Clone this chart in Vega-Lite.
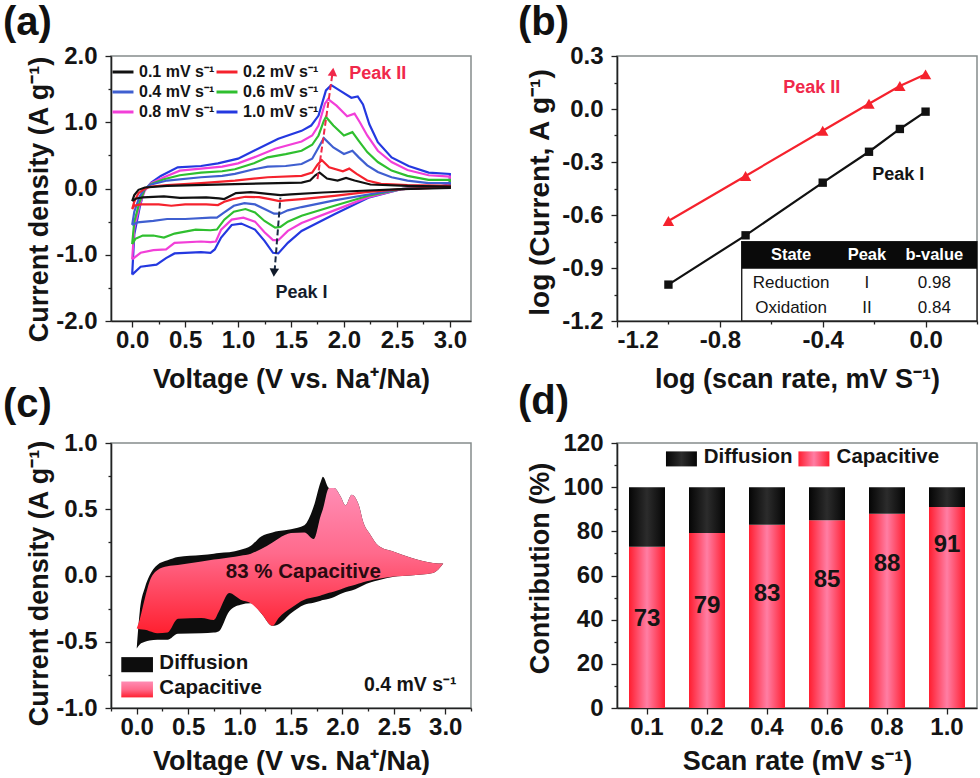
{"$schema":"https://vega.github.io/schema/vega-lite/v6.json","padding":{"left":2,"top":2,"right":0,"bottom":0},"background":"white","columns":2,"bounds":"flush","spacing":{"row":122,"column":146},"config":{"font":"Liberation Sans","view":{"stroke":"#858c8c","strokeWidth":1.5},"title":{"font":"Liberation Sans","fontWeight":"bold","fontSize":40,"color":"#111"},"axis":{"grid":false,"domainColor":"#222","domainWidth":1.6,"tickColor":"#222","tickWidth":1.3,"labelFont":"Liberation Sans","labelFontWeight":"bold","labelFontSize":24,"labelColor":"#141414","labelOverlap":false,"labelPadding":8,"titleFont":"Liberation Sans","titleFontWeight":"bold","titleFontSize":27,"titleColor":"#141414"},"legend":{"labelFont":"Liberation Sans"}},"concat":[{"width":360,"height":265,"title":{"text":"(a)","anchor":"start","frame":"group","dx":-108,"offset":1},"encoding":{"x":{"field":"x","type":"quantitative","scale":{"domain":[-0.2,3.2],"nice":false,"zero":false},"axis":{"title":"Voltage (V vs. Na⁺/Na)","labelPadding":1,"titlePadding":14,"values":[0,0.25,0.5,0.75,1,1.25,1.5,1.75,2,2.25,2.5,2.75,3],"tickSize":{"condition":{"test":"round(datum.value*100)%50!=0","value":3},"value":6},"labelExpr":"round(datum.value*100)%50!=0?'':format(datum.value,'.1f')"}},"y":{"field":"y","type":"quantitative","scale":{"domain":[-2,2],"nice":false,"zero":false},"axis":{"title":"Current density (A g⁻¹)","titlePadding":2,"titleY":143,"values":[-2,-1.5,-1,-0.5,0,0.5,1,1.5,2],"tickSize":{"condition":{"test":"round(datum.value*100)%100!=0","value":3},"value":6},"labelExpr":"round(datum.value*100)%100!=0?'':(datum.value<0?'-':'')+format(abs(datum.value),'.1f')"}}},"layer":[{"data":{"values":[{"s":"1.0","o":1,"x":0,"y":-1.3},{"s":"1.0","o":2,"x":0.02,"y":-0.69},{"s":"1.0","o":3,"x":0.07,"y":-0.29},{"s":"1.0","o":4,"x":0.11,"y":-0.04},{"s":"1.0","o":5,"x":0.18,"y":0.09},{"s":"1.0","o":6,"x":0.27,"y":0.19},{"s":"1.0","o":7,"x":0.43,"y":0.32},{"s":"1.0","o":8,"x":0.65,"y":0.34},{"s":"1.0","o":9,"x":0.81,"y":0.38},{"s":"1.0","o":10,"x":1,"y":0.45},{"s":"1.0","o":11,"x":1.15,"y":0.57},{"s":"1.0","o":12,"x":1.38,"y":0.75},{"s":"1.0","o":13,"x":1.6,"y":0.87},{"s":"1.0","o":14,"x":1.69,"y":0.95},{"s":"1.0","o":15,"x":1.76,"y":1.1},{"s":"1.0","o":16,"x":1.83,"y":1.48},{"s":"1.0","o":17,"x":1.88,"y":1.56},{"s":"1.0","o":18,"x":1.97,"y":1.47},{"s":"1.0","o":19,"x":2.07,"y":1.37},{"s":"1.0","o":20,"x":2.13,"y":1.39},{"s":"1.0","o":21,"x":2.18,"y":1.27},{"s":"1.0","o":22,"x":2.24,"y":0.97},{"s":"1.0","o":23,"x":2.32,"y":0.7},{"s":"1.0","o":24,"x":2.45,"y":0.47},{"s":"1.0","o":25,"x":2.61,"y":0.34},{"s":"1.0","o":26,"x":2.8,"y":0.24},{"s":"1.0","o":27,"x":3,"y":0.22},{"s":"1.0","o":28,"x":3,"y":0.06},{"s":"1.0","o":29,"x":2.86,"y":0.02},{"s":"1.0","o":30,"x":2.54,"y":-0.01},{"s":"1.0","o":31,"x":2.23,"y":-0.14},{"s":"1.0","o":32,"x":1.91,"y":-0.39},{"s":"1.0","o":33,"x":1.6,"y":-0.64},{"s":"1.0","o":34,"x":1.47,"y":-0.82},{"s":"1.0","o":35,"x":1.38,"y":-0.98},{"s":"1.0","o":36,"x":1.33,"y":-0.97},{"s":"1.0","o":37,"x":1.25,"y":-0.79},{"s":"1.0","o":38,"x":1.16,"y":-0.62},{"s":"1.0","o":39,"x":1.03,"y":-0.53},{"s":"1.0","o":40,"x":0.94,"y":-0.55},{"s":"1.0","o":41,"x":0.84,"y":-0.74},{"s":"1.0","o":42,"x":0.78,"y":-0.92},{"s":"1.0","o":43,"x":0.74,"y":-0.97},{"s":"1.0","o":44,"x":0.65,"y":-0.96},{"s":"1.0","o":45,"x":0.4,"y":-0.98},{"s":"1.0","o":46,"x":0.32,"y":-1.05},{"s":"1.0","o":47,"x":0.23,"y":-1.15},{"s":"1.0","o":48,"x":0.08,"y":-1.18},{"s":"1.0","o":49,"x":0,"y":-1.3},{"s":"0.8","o":1,"x":0,"y":-1.07},{"s":"0.8","o":2,"x":0.02,"y":-0.6},{"s":"0.8","o":3,"x":0.07,"y":-0.25},{"s":"0.8","o":4,"x":0.12,"y":-0.03},{"s":"0.8","o":5,"x":0.18,"y":0.08},{"s":"0.8","o":6,"x":0.3,"y":0.17},{"s":"0.8","o":7,"x":0.45,"y":0.27},{"s":"0.8","o":8,"x":0.65,"y":0.3},{"s":"0.8","o":9,"x":0.85,"y":0.33},{"s":"0.8","o":10,"x":1,"y":0.38},{"s":"0.8","o":11,"x":1.15,"y":0.47},{"s":"0.8","o":12,"x":1.35,"y":0.6},{"s":"0.8","o":13,"x":1.6,"y":0.71},{"s":"0.8","o":14,"x":1.7,"y":0.8},{"s":"0.8","o":15,"x":1.76,"y":0.95},{"s":"0.8","o":16,"x":1.82,"y":1.28},{"s":"0.8","o":17,"x":1.85,"y":1.35},{"s":"0.8","o":18,"x":1.93,"y":1.25},{"s":"0.8","o":19,"x":2.03,"y":1.09},{"s":"0.8","o":20,"x":2.1,"y":1.13},{"s":"0.8","o":21,"x":2.15,"y":1},{"s":"0.8","o":22,"x":2.22,"y":0.8},{"s":"0.8","o":23,"x":2.32,"y":0.57},{"s":"0.8","o":24,"x":2.45,"y":0.4},{"s":"0.8","o":25,"x":2.6,"y":0.28},{"s":"0.8","o":26,"x":2.8,"y":0.2},{"s":"0.8","o":27,"x":3,"y":0.18},{"s":"0.8","o":28,"x":3,"y":0.05},{"s":"0.8","o":29,"x":2.86,"y":0.02},{"s":"0.8","o":30,"x":2.54,"y":-0.01},{"s":"0.8","o":31,"x":2.23,"y":-0.13},{"s":"0.8","o":32,"x":1.91,"y":-0.33},{"s":"0.8","o":33,"x":1.6,"y":-0.52},{"s":"0.8","o":34,"x":1.47,"y":-0.64},{"s":"0.8","o":35,"x":1.38,"y":-0.78},{"s":"0.8","o":36,"x":1.33,"y":-0.78},{"s":"0.8","o":37,"x":1.25,"y":-0.66},{"s":"0.8","o":38,"x":1.16,"y":-0.5},{"s":"0.8","o":39,"x":1.05,"y":-0.44},{"s":"0.8","o":40,"x":0.94,"y":-0.47},{"s":"0.8","o":41,"x":0.84,"y":-0.62},{"s":"0.8","o":42,"x":0.79,"y":-0.8},{"s":"0.8","o":43,"x":0.74,"y":-0.81},{"s":"0.8","o":44,"x":0.65,"y":-0.8},{"s":"0.8","o":45,"x":0.4,"y":-0.82},{"s":"0.8","o":46,"x":0.32,"y":-0.92},{"s":"0.8","o":47,"x":0.2,"y":-0.93},{"s":"0.8","o":48,"x":0.08,"y":-0.97},{"s":"0.8","o":49,"x":0,"y":-1.07},{"s":"0.6","o":1,"x":0,"y":-0.84},{"s":"0.6","o":2,"x":0.02,"y":-0.5},{"s":"0.6","o":3,"x":0.07,"y":-0.2},{"s":"0.6","o":4,"x":0.12,"y":-0.01},{"s":"0.6","o":5,"x":0.18,"y":0.07},{"s":"0.6","o":6,"x":0.3,"y":0.14},{"s":"0.6","o":7,"x":0.45,"y":0.2},{"s":"0.6","o":8,"x":0.65,"y":0.24},{"s":"0.6","o":9,"x":0.85,"y":0.26},{"s":"0.6","o":10,"x":0.97,"y":0.29},{"s":"0.6","o":11,"x":1.15,"y":0.38},{"s":"0.6","o":12,"x":1.28,"y":0.47},{"s":"0.6","o":13,"x":1.45,"y":0.52},{"s":"0.6","o":14,"x":1.6,"y":0.57},{"s":"0.6","o":15,"x":1.7,"y":0.66},{"s":"0.6","o":16,"x":1.76,"y":0.8},{"s":"0.6","o":17,"x":1.81,"y":1.02},{"s":"0.6","o":18,"x":1.83,"y":1.08},{"s":"0.6","o":19,"x":1.9,"y":0.95},{"s":"0.6","o":20,"x":2,"y":0.8},{"s":"0.6","o":21,"x":2.08,"y":0.85},{"s":"0.6","o":22,"x":2.14,"y":0.72},{"s":"0.6","o":23,"x":2.22,"y":0.55},{"s":"0.6","o":24,"x":2.32,"y":0.4},{"s":"0.6","o":25,"x":2.45,"y":0.27},{"s":"0.6","o":26,"x":2.6,"y":0.19},{"s":"0.6","o":27,"x":2.8,"y":0.13},{"s":"0.6","o":28,"x":3,"y":0.13},{"s":"0.6","o":29,"x":3,"y":0.04},{"s":"0.6","o":30,"x":2.86,"y":0.02},{"s":"0.6","o":31,"x":2.54,"y":-0.01},{"s":"0.6","o":32,"x":2.23,"y":-0.11},{"s":"0.6","o":33,"x":1.91,"y":-0.26},{"s":"0.6","o":34,"x":1.6,"y":-0.41},{"s":"0.6","o":35,"x":1.47,"y":-0.5},{"s":"0.6","o":36,"x":1.4,"y":-0.58},{"s":"0.6","o":37,"x":1.35,"y":-0.59},{"s":"0.6","o":38,"x":1.25,"y":-0.49},{"s":"0.6","o":39,"x":1.16,"y":-0.36},{"s":"0.6","o":40,"x":1.07,"y":-0.31},{"s":"0.6","o":41,"x":0.96,"y":-0.35},{"s":"0.6","o":42,"x":0.87,"y":-0.47},{"s":"0.6","o":43,"x":0.8,"y":-0.62},{"s":"0.6","o":44,"x":0.74,"y":-0.63},{"s":"0.6","o":45,"x":0.6,"y":-0.62},{"s":"0.6","o":46,"x":0.4,"y":-0.68},{"s":"0.6","o":47,"x":0.3,"y":-0.74},{"s":"0.6","o":48,"x":0.2,"y":-0.71},{"s":"0.6","o":49,"x":0.1,"y":-0.71},{"s":"0.6","o":50,"x":0.03,"y":-0.76},{"s":"0.6","o":51,"x":0,"y":-0.84},{"s":"0.4","o":1,"x":0,"y":-0.55},{"s":"0.4","o":2,"x":0.02,"y":-0.35},{"s":"0.4","o":3,"x":0.07,"y":-0.12},{"s":"0.4","o":4,"x":0.12,"y":0},{"s":"0.4","o":5,"x":0.18,"y":0.06},{"s":"0.4","o":6,"x":0.33,"y":0.12},{"s":"0.4","o":7,"x":0.65,"y":0.17},{"s":"0.4","o":8,"x":0.85,"y":0.19},{"s":"0.4","o":9,"x":0.97,"y":0.22},{"s":"0.4","o":10,"x":1.15,"y":0.29},{"s":"0.4","o":11,"x":1.28,"y":0.33},{"s":"0.4","o":12,"x":1.45,"y":0.34},{"s":"0.4","o":13,"x":1.6,"y":0.37},{"s":"0.4","o":14,"x":1.7,"y":0.45},{"s":"0.4","o":15,"x":1.76,"y":0.62},{"s":"0.4","o":16,"x":1.81,"y":0.76},{"s":"0.4","o":17,"x":1.9,"y":0.62},{"s":"0.4","o":18,"x":2,"y":0.52},{"s":"0.4","o":19,"x":2.08,"y":0.57},{"s":"0.4","o":20,"x":2.14,"y":0.47},{"s":"0.4","o":21,"x":2.22,"y":0.35},{"s":"0.4","o":22,"x":2.32,"y":0.25},{"s":"0.4","o":23,"x":2.45,"y":0.17},{"s":"0.4","o":24,"x":2.6,"y":0.12},{"s":"0.4","o":25,"x":2.8,"y":0.08},{"s":"0.4","o":26,"x":3,"y":0.08},{"s":"0.4","o":27,"x":3,"y":0.03},{"s":"0.4","o":28,"x":2.86,"y":0.015},{"s":"0.4","o":29,"x":2.54,"y":-0.01},{"s":"0.4","o":30,"x":2.23,"y":-0.09},{"s":"0.4","o":31,"x":1.91,"y":-0.18},{"s":"0.4","o":32,"x":1.6,"y":-0.28},{"s":"0.4","o":33,"x":1.47,"y":-0.33},{"s":"0.4","o":34,"x":1.4,"y":-0.38},{"s":"0.4","o":35,"x":1.34,"y":-0.38},{"s":"0.4","o":36,"x":1.25,"y":-0.31},{"s":"0.4","o":37,"x":1.16,"y":-0.24},{"s":"0.4","o":38,"x":1.06,"y":-0.22},{"s":"0.4","o":39,"x":0.96,"y":-0.26},{"s":"0.4","o":40,"x":0.87,"y":-0.36},{"s":"0.4","o":41,"x":0.8,"y":-0.44},{"s":"0.4","o":42,"x":0.74,"y":-0.44},{"s":"0.4","o":43,"x":0.5,"y":-0.46},{"s":"0.4","o":44,"x":0.33,"y":-0.46},{"s":"0.4","o":45,"x":0.2,"y":-0.49},{"s":"0.4","o":46,"x":0.05,"y":-0.51},{"s":"0.4","o":47,"x":0,"y":-0.55},{"s":"0.2","o":1,"x":0,"y":-0.31},{"s":"0.2","o":2,"x":0.02,"y":-0.2},{"s":"0.2","o":3,"x":0.06,"y":-0.07},{"s":"0.2","o":4,"x":0.12,"y":0},{"s":"0.2","o":5,"x":0.18,"y":0.03},{"s":"0.2","o":6,"x":0.33,"y":0.05},{"s":"0.2","o":7,"x":0.65,"y":0.08},{"s":"0.2","o":8,"x":0.97,"y":0.12},{"s":"0.2","o":9,"x":1.28,"y":0.17},{"s":"0.2","o":10,"x":1.6,"y":0.19},{"s":"0.2","o":11,"x":1.7,"y":0.24},{"s":"0.2","o":12,"x":1.75,"y":0.36},{"s":"0.2","o":13,"x":1.79,"y":0.43},{"s":"0.2","o":14,"x":1.86,"y":0.32},{"s":"0.2","o":15,"x":1.99,"y":0.26},{"s":"0.2","o":16,"x":2.05,"y":0.3},{"s":"0.2","o":17,"x":2.12,"y":0.22},{"s":"0.2","o":18,"x":2.22,"y":0.12},{"s":"0.2","o":19,"x":2.35,"y":0.07},{"s":"0.2","o":20,"x":2.6,"y":0.05},{"s":"0.2","o":21,"x":3,"y":0.04},{"s":"0.2","o":22,"x":3,"y":0.02},{"s":"0.2","o":23,"x":2.54,"y":-0.01},{"s":"0.2","o":24,"x":2.23,"y":-0.05},{"s":"0.2","o":25,"x":1.91,"y":-0.11},{"s":"0.2","o":26,"x":1.6,"y":-0.16},{"s":"0.2","o":27,"x":1.45,"y":-0.18},{"s":"0.2","o":28,"x":1.39,"y":-0.19},{"s":"0.2","o":29,"x":1.3,"y":-0.16},{"s":"0.2","o":30,"x":1.2,"y":-0.13},{"s":"0.2","o":31,"x":1.07,"y":-0.125},{"s":"0.2","o":32,"x":0.95,"y":-0.16},{"s":"0.2","o":33,"x":0.87,"y":-0.2},{"s":"0.2","o":34,"x":0.81,"y":-0.25},{"s":"0.2","o":35,"x":0.7,"y":-0.24},{"s":"0.2","o":36,"x":0.5,"y":-0.24},{"s":"0.2","o":37,"x":0.37,"y":-0.26},{"s":"0.2","o":38,"x":0.25,"y":-0.24},{"s":"0.2","o":39,"x":0.08,"y":-0.24},{"s":"0.2","o":40,"x":0.02,"y":-0.26},{"s":"0.2","o":41,"x":0,"y":-0.31},{"s":"0.1","o":1,"x":0,"y":-0.19},{"s":"0.1","o":2,"x":0.02,"y":-0.1},{"s":"0.1","o":3,"x":0.06,"y":-0.02},{"s":"0.1","o":4,"x":0.12,"y":0.015},{"s":"0.1","o":5,"x":0.33,"y":0.04},{"s":"0.1","o":6,"x":0.97,"y":0.065},{"s":"0.1","o":7,"x":1.6,"y":0.09},{"s":"0.1","o":8,"x":1.68,"y":0.12},{"s":"0.1","o":9,"x":1.73,"y":0.2},{"s":"0.1","o":10,"x":1.77,"y":0.24},{"s":"0.1","o":11,"x":1.84,"y":0.15},{"s":"0.1","o":12,"x":1.94,"y":0.12},{"s":"0.1","o":13,"x":2.02,"y":0.16},{"s":"0.1","o":14,"x":2.1,"y":0.12},{"s":"0.1","o":15,"x":2.25,"y":0.06},{"s":"0.1","o":16,"x":2.6,"y":0.04},{"s":"0.1","o":17,"x":3,"y":0.03},{"s":"0.1","o":18,"x":3,"y":0.01},{"s":"0.1","o":19,"x":2.54,"y":-0.01},{"s":"0.1","o":20,"x":2.23,"y":-0.03},{"s":"0.1","o":21,"x":1.8,"y":-0.06},{"s":"0.1","o":22,"x":1.5,"y":-0.09},{"s":"0.1","o":23,"x":1.4,"y":-0.1},{"s":"0.1","o":24,"x":1.28,"y":-0.08},{"s":"0.1","o":25,"x":1.12,"y":-0.055},{"s":"0.1","o":26,"x":0.98,"y":-0.07},{"s":"0.1","o":27,"x":0.87,"y":-0.16},{"s":"0.1","o":28,"x":0.82,"y":-0.15},{"s":"0.1","o":29,"x":0.7,"y":-0.135},{"s":"0.1","o":30,"x":0.45,"y":-0.14},{"s":"0.1","o":31,"x":0.3,"y":-0.12},{"s":"0.1","o":32,"x":0.15,"y":-0.13},{"s":"0.1","o":33,"x":0.1,"y":-0.135},{"s":"0.1","o":34,"x":0.04,"y":-0.15},{"s":"0.1","o":35,"x":0,"y":-0.19}]},"mark":{"type":"line","strokeWidth":2.2,"interpolate":"linear","clip":true},"encoding":{"order":{"field":"o","type":"quantitative"},"color":{"field":"s","type":"nominal","scale":{"domain":["0.1","0.4","0.8","0.2","0.6","1.0"],"range":["#111111","#3f5fd0","#f23fd8","#f5222d","#2fbf2f","#2438e0"]},"legend":{"title":null,"orient":"none","legendX":0,"legendY":4,"columns":2,"columnPadding":-6,"rowPadding":0,"symbolType":"stroke","symbolSize":440,"symbolStrokeWidth":3,"labelFontSize":16,"labelFontWeight":"bold","labelColor":"#141414","labelExpr":"datum.label+' mV s⁻¹'"}}}},{"data":{"values":[{"k":"II","x":1.75,"y":0.14},{"k":"II","x":1.89,"y":1.72}]},"mark":{"type":"line","color":"#f0284a","strokeWidth":2,"strokeDash":[6,3]},"encoding":{"detail":{"field":"k"}}},{"data":{"values":[{"k":"I","x":1.4,"y":-0.14},{"k":"I","x":1.345,"y":-1.25}]},"mark":{"type":"line","color":"#1a2a44","strokeWidth":2,"strokeDash":[6,3]},"encoding":{"detail":{"field":"k"}}},{"data":{"values":[{"x":1.895,"y":1.76}]},"mark":{"type":"point","shape":"triangle-up","filled":true,"size":90,"color":"#f0284a","opacity":1,"angle":6}},{"data":{"values":[{"x":1.34,"y":-1.27}]},"mark":{"type":"point","shape":"triangle-down","filled":true,"size":90,"color":"#111a2a","opacity":1,"angle":4}},{"data":{"values":[{"x":2.32,"y":1.73,"t":"Peak II"}]},"mark":{"type":"text","fontSize":18,"fontWeight":"bold","color":"#f0284a"},"encoding":{"text":{"field":"t"}}},{"data":{"values":[{"x":1.6,"y":-1.58,"t":"Peak I"}]},"mark":{"type":"text","fontSize":18,"fontWeight":"bold","color":"#141c2c"},"encoding":{"text":{"field":"t"}}}]},{"width":360,"height":265,"title":{"text":"(b)","anchor":"start","frame":"group","dx":-99,"offset":1},"encoding":{"x":{"field":"x","type":"quantitative","scale":{"domain":[-1.2,0.2],"nice":false,"zero":false},"axis":{"title":"log (scan rate, mV S⁻¹)","labelPadding":1,"titlePadding":14,"values":[-1.2,-1,-0.8,-0.6,-0.4,-0.2,0,0.2],"tickSize":{"condition":{"test":"round(abs(datum.value)*100)%40!=0","value":3},"value":6},"labelExpr":"round(abs(datum.value)*100)%40!=0?'':(datum.value<0?'-':'')+format(abs(datum.value),'.1f')"}},"y":{"field":"y","type":"quantitative","scale":{"domain":[-1.2,0.3],"nice":false,"zero":false},"axis":{"title":"log (Current, A g⁻¹)","titleFontSize":28,"titlePadding":7,"titleY":136,"values":[-1.2,-1.05,-0.9,-0.75,-0.6,-0.45,-0.3,-0.15,0,0.15,0.3],"tickSize":{"condition":{"test":"round(abs(datum.value)*100)%30!=0","value":3},"value":6},"labelExpr":"round(abs(datum.value)*100)%30!=0?'':(datum.value<0?'-':'')+format(abs(datum.value),'.1f')"}}},"layer":[{"data":{"values":[{"x":-1,"y":-0.994},{"x":-0.7,"y":-0.715},{"x":-0.4,"y":-0.417},{"x":-0.22,"y":-0.242},{"x":-0.1,"y":-0.113},{"x":0,"y":-0.015}]},"mark":{"type":"line","color":"#111","strokeWidth":2.2,"point":{"shape":"square","size":70,"filled":true,"color":"#111","opacity":1}}},{"data":{"values":[{"x":-1,"y":-0.634},{"x":-0.7,"y":-0.379},{"x":-0.4,"y":-0.123},{"x":-0.22,"y":0.03},{"x":-0.1,"y":0.13},{"x":0,"y":0.196}]},"mark":{"type":"line","color":"#f5222d","strokeWidth":2.2,"point":{"shape":"triangle-up","size":130,"filled":true,"color":"#f5222d","opacity":1}}},{"data":{"values":[{"x":-0.443,"y":0.117,"t":"Peak II"}]},"mark":{"type":"text","fontSize":18,"fontWeight":"bold","color":"#f0284a"},"encoding":{"text":{"field":"t"}}},{"data":{"values":[{"x":-0.106,"y":-0.375,"t":"Peak I"}]},"mark":{"type":"text","fontSize":18,"fontWeight":"bold","color":"#141414"},"encoding":{"text":{"field":"t"}}},{"data":{"values":[{"x":-0.715,"x2":0.2,"y":-1.2,"y2":-0.751}]},"mark":{"type":"rect","fill":"white","stroke":"#222","strokeWidth":1.4},"encoding":{"x2":{"field":"x2"},"y2":{"field":"y2"}}},{"data":{"values":[{"x":-0.715,"x2":0.2,"y":-0.904,"y2":-0.751}]},"mark":{"type":"rect","fill":"#0a0a0a"},"encoding":{"x2":{"field":"x2"},"y2":{"field":"y2"}}},{"data":{"values":[{"x":-0.523,"y":-0.826,"t":"State"},{"x":-0.228,"y":-0.826,"t":"Peak"},{"x":0.034,"y":-0.826,"t":"b-value"}]},"mark":{"type":"text","fontSize":16.5,"fontWeight":"bold","color":"white"},"encoding":{"text":{"field":"t"}}},{"data":{"values":[{"x":-0.523,"y":-0.983,"t":"Reduction"},{"x":-0.228,"y":-0.983,"t":"I"},{"x":0.034,"y":-0.983,"t":"0.98"},{"x":-0.523,"y":-1.128,"t":"Oxidation"},{"x":-0.228,"y":-1.128,"t":"II"},{"x":0.034,"y":-1.128,"t":"0.84"}]},"mark":{"type":"text","fontSize":17,"color":"#141414"},"encoding":{"text":{"field":"t"}}}]},{"width":360,"height":265,"title":{"text":"(c)","anchor":"start","frame":"group","dx":-108,"offset":6},"data":{"values":[{"k":"D","x":0,"y":-0.55,"y2":-0.55},{"k":"D","x":0.03,"y":-0.27,"y2":-0.52},{"k":"D","x":0.08,"y":-0.09,"y2":-0.5},{"k":"D","x":0.125,"y":0,"y2":-0.49},{"k":"D","x":0.2,"y":0.08,"y2":-0.485},{"k":"D","x":0.3,"y":0.115,"y2":-0.485},{"k":"D","x":0.4,"y":0.14,"y2":-0.44},{"k":"D","x":0.63,"y":0.155,"y2":-0.435},{"k":"D","x":0.75,"y":0.165,"y2":-0.43},{"k":"D","x":0.8,"y":0.17,"y2":-0.42},{"k":"D","x":0.9,"y":0.175,"y2":-0.27},{"k":"D","x":1.01,"y":0.195,"y2":-0.22},{"k":"D","x":1.11,"y":0.225,"y2":-0.21},{"k":"D","x":1.21,"y":0.295,"y2":-0.285},{"k":"D","x":1.32,"y":0.325,"y2":-0.38},{"k":"D","x":1.38,"y":0.335,"y2":-0.367},{"k":"D","x":1.5,"y":0.35,"y2":-0.285},{"k":"D","x":1.63,"y":0.38,"y2":-0.22},{"k":"D","x":1.72,"y":0.52,"y2":-0.205},{"k":"D","x":1.79,"y":0.71,"y2":-0.19},{"k":"D","x":1.81,"y":0.745,"y2":-0.185},{"k":"D","x":1.87,"y":0.66,"y2":-0.175},{"k":"D","x":1.92,"y":0.66,"y2":-0.163},{"k":"D","x":1.98,"y":0.6,"y2":-0.14},{"k":"D","x":2.03,"y":0.53,"y2":-0.125},{"k":"D","x":2.09,"y":0.61,"y2":-0.113},{"k":"D","x":2.16,"y":0.53,"y2":-0.09},{"k":"D","x":2.2,"y":0.41,"y2":-0.075},{"k":"D","x":2.27,"y":0.31,"y2":-0.053},{"k":"D","x":2.35,"y":0.225,"y2":-0.035},{"k":"D","x":2.5,"y":0.18,"y2":-0.01},{"k":"D","x":2.66,"y":0.135,"y2":0},{"k":"D","x":2.88,"y":0.095,"y2":0.018},{"k":"D","x":2.98,"y":0.09,"y2":0.09},{"k":"C","x":0,"y":-0.4,"y2":-0.4},{"k":"C","x":0.03,"y":-0.33,"y2":-0.405},{"k":"C","x":0.08,"y":-0.17,"y2":-0.41},{"k":"C","x":0.125,"y":-0.045,"y2":-0.42},{"k":"C","x":0.2,"y":0.04,"y2":-0.435},{"k":"C","x":0.3,"y":0.07,"y2":-0.43},{"k":"C","x":0.4,"y":0.08,"y2":-0.327},{"k":"C","x":0.63,"y":0.105,"y2":-0.32},{"k":"C","x":0.75,"y":0.12,"y2":-0.335},{"k":"C","x":0.8,"y":0.125,"y2":-0.27},{"k":"C","x":0.9,"y":0.135,"y2":-0.133},{"k":"C","x":1.01,"y":0.15,"y2":-0.183},{"k":"C","x":1.11,"y":0.165,"y2":-0.21},{"k":"C","x":1.21,"y":0.2,"y2":-0.285},{"k":"C","x":1.32,"y":0.25,"y2":-0.38},{"k":"C","x":1.38,"y":0.28,"y2":-0.32},{"k":"C","x":1.5,"y":0.32,"y2":-0.246},{"k":"C","x":1.63,"y":0.325,"y2":-0.183},{"k":"C","x":1.72,"y":0.275,"y2":-0.165},{"k":"C","x":1.79,"y":0.455,"y2":-0.15},{"k":"C","x":1.81,"y":0.5,"y2":-0.145},{"k":"C","x":1.87,"y":0.66,"y2":-0.13},{"k":"C","x":1.92,"y":0.66,"y2":-0.12},{"k":"C","x":1.98,"y":0.6,"y2":-0.105},{"k":"C","x":2.03,"y":0.53,"y2":-0.09},{"k":"C","x":2.09,"y":0.61,"y2":-0.078},{"k":"C","x":2.16,"y":0.53,"y2":-0.06},{"k":"C","x":2.2,"y":0.41,"y2":-0.05},{"k":"C","x":2.27,"y":0.31,"y2":-0.038},{"k":"C","x":2.35,"y":0.225,"y2":-0.025},{"k":"C","x":2.5,"y":0.18,"y2":-0.008},{"k":"C","x":2.66,"y":0.135,"y2":0},{"k":"C","x":2.88,"y":0.095,"y2":0.018},{"k":"C","x":2.98,"y":0.09,"y2":0.09}]},"encoding":{"x":{"field":"x","type":"quantitative","scale":{"domain":[-0.25,3.25],"nice":false,"zero":false},"axis":{"title":"Voltage (V vs. Na⁺/Na)","labelPadding":1,"titlePadding":9,"values":[-0.25,0,0.25,0.5,0.75,1,1.25,1.5,1.75,2,2.25,2.5,2.75,3,3.25],"tickSize":{"condition":{"test":"round(abs(datum.value)*100)%50!=0","value":3},"value":6},"labelExpr":"round(abs(datum.value)*100)%50!=0?'':format(datum.value,'.1f')"}},"y":{"field":"y","type":"quantitative","scale":{"domain":[-1,1],"nice":false,"zero":false},"axis":{"title":"Current density (A g⁻¹)","titlePadding":2,"titleY":140,"values":[-1,-0.75,-0.5,-0.25,0,0.25,0.5,0.75,1],"tickSize":{"condition":{"test":"round(abs(datum.value)*100)%50!=0","value":3},"value":6},"labelExpr":"round(abs(datum.value)*100)%50!=0?'':(datum.value<0?'-':'')+format(abs(datum.value),'.1f')"}}},"layer":[{"transform":[{"filter":"datum.k=='D'"}],"mark":{"type":"area","color":"#0d0d0d","line":false,"interpolate":"monotone"},"encoding":{"y2":{"field":"y2"}}},{"transform":[{"filter":"datum.k=='C'"}],"mark":{"type":"area","interpolate":"monotone","color":{"gradient":"linear","x1":0,"y1":0,"x2":0,"y2":1,"stops":[{"offset":0,"color":"#ff8cb4"},{"offset":0.45,"color":"#ff6a8c"},{"offset":1,"color":"#ff2030"}]}},"encoding":{"y2":{"field":"y2"}}},{"data":{"values":[{"x":-0.15,"x2":0.158,"y":-0.73,"y2":-0.616}]},"mark":{"type":"rect","color":"#0d0d0d"},"encoding":{"x2":{"field":"x2"},"y2":{"field":"y2"}}},{"data":{"values":[{"x":-0.15,"x2":0.158,"y":-0.92,"y2":-0.8}]},"mark":{"type":"rect","color":{"gradient":"linear","x1":0,"y1":0,"x2":0,"y2":1,"stops":[{"offset":0,"color":"#ff8cb4"},{"offset":0.5,"color":"#ff6a8c"},{"offset":1,"color":"#ff2030"}]}},"encoding":{"x2":{"field":"x2"},"y2":{"field":"y2"}}},{"data":{"values":[{"x":0.22,"y":-0.66,"t":"Diffusion"},{"x":0.22,"y":-0.85,"t":"Capacitive"}]},"mark":{"type":"text","align":"left","fontSize":20.5,"fontWeight":"bold","color":"#141414"},"encoding":{"text":{"field":"t"}}},{"data":{"values":[{"x":3.11,"y":-0.83,"t":"0.4 mV s⁻¹"}]},"mark":{"type":"text","align":"right","fontSize":19.5,"fontWeight":"bold","color":"#141414"},"encoding":{"text":{"field":"t"}}},{"data":{"values":[{"x":1.62,"y":0.03,"t":"83 % Capacitive"}]},"mark":{"type":"text","fontSize":20.5,"fontWeight":"bold","color":"#2a0a10"},"encoding":{"text":{"field":"t"}}}]},{"width":360,"height":265,"title":{"text":"(d)","anchor":"start","frame":"group","dx":-99,"offset":9},"encoding":{"y":{"field":"y","type":"quantitative","scale":{"domain":[0,120],"nice":false},"axis":{"title":"Contribution (%)","titlePadding":8,"titleY":125,"values":[0,10,20,30,40,50,60,70,80,90,100,110,120],"tickSize":{"condition":{"test":"datum.value%20!=0","value":3},"value":6},"labelExpr":"datum.value%20!=0?'':format(datum.value,'d')"}}},"resolve":{"scale":{"x":"independent"}},"layer":[{"data":{"values":[{"rate":"0.1","diffusion":27,"total":100,"y":73,"labelAt":40.3,"t":"73"},{"rate":"0.2","diffusion":20.7,"total":100,"y":79.3,"labelAt":46.3,"t":"79"},{"rate":"0.4","diffusion":17,"total":100,"y":83,"labelAt":51.8,"t":"83"},{"rate":"0.6","diffusion":15,"total":100,"y":85,"labelAt":57.8,"t":"85"},{"rate":"0.8","diffusion":12,"total":100,"y":88,"labelAt":65,"t":"88"},{"rate":"1.0","diffusion":9,"total":100,"y":91,"labelAt":73.7,"t":"91"}]},"encoding":{"x":{"field":"rate","type":"ordinal","scale":{"paddingInner":0.4,"paddingOuter":0.2},"axis":{"title":"Scan rate (mV s⁻¹)","labelPadding":1,"titlePadding":9,"labelAngle":0,"tickSize":6}}},"layer":[{"mark":{"type":"bar","color":{"gradient":"linear","x1":0,"y1":0,"x2":1,"y2":0,"stops":[{"offset":0,"color":"#ff1e30"},{"offset":0.5,"color":"#ff7ea4"},{"offset":1,"color":"#ff1e30"}]}},"encoding":{"y2":{"datum":0}}},{"mark":{"type":"bar","color":{"gradient":"linear","x1":0,"y1":0,"x2":1,"y2":0,"stops":[{"offset":0,"color":"#050505"},{"offset":0.5,"color":"#2c2c2c"},{"offset":1,"color":"#050505"}]}},"encoding":{"y2":{"field":"total"}}},{"mark":{"type":"text","fontSize":24,"fontWeight":"bold","color":"#141414"},"encoding":{"y":{"field":"labelAt","type":"quantitative"},"text":{"field":"t"}}}]},{"encoding":{"x":{"field":"x","type":"quantitative","scale":{"domain":[0,1],"nice":false,"zero":false},"axis":null}},"layer":[{"data":{"values":[{"x":0.136,"x2":0.222,"y":109.4,"y2":116.2}]},"mark":{"type":"rect","color":{"gradient":"linear","x1":0,"y1":0,"x2":1,"y2":0,"stops":[{"offset":0,"color":"#050505"},{"offset":0.5,"color":"#2c2c2c"},{"offset":1,"color":"#050505"}]}},"encoding":{"x2":{"field":"x2"},"y2":{"field":"y2"}}},{"data":{"values":[{"x":0.504,"x2":0.59,"y":109.4,"y2":116.2}]},"mark":{"type":"rect","color":{"gradient":"linear","x1":0,"y1":0,"x2":1,"y2":0,"stops":[{"offset":0,"color":"#ff1e30"},{"offset":0.5,"color":"#ff7ea4"},{"offset":1,"color":"#ff1e30"}]}},"encoding":{"x2":{"field":"x2"},"y2":{"field":"y2"}}},{"data":{"values":[{"x":0.241,"y":113.5,"t":"Diffusion"},{"x":0.61,"y":113.5,"t":"Capacitive"}]},"mark":{"type":"text","align":"left","fontSize":20.5,"fontWeight":"bold","color":"#141414"},"encoding":{"text":{"field":"t"}}}]}]}]}
